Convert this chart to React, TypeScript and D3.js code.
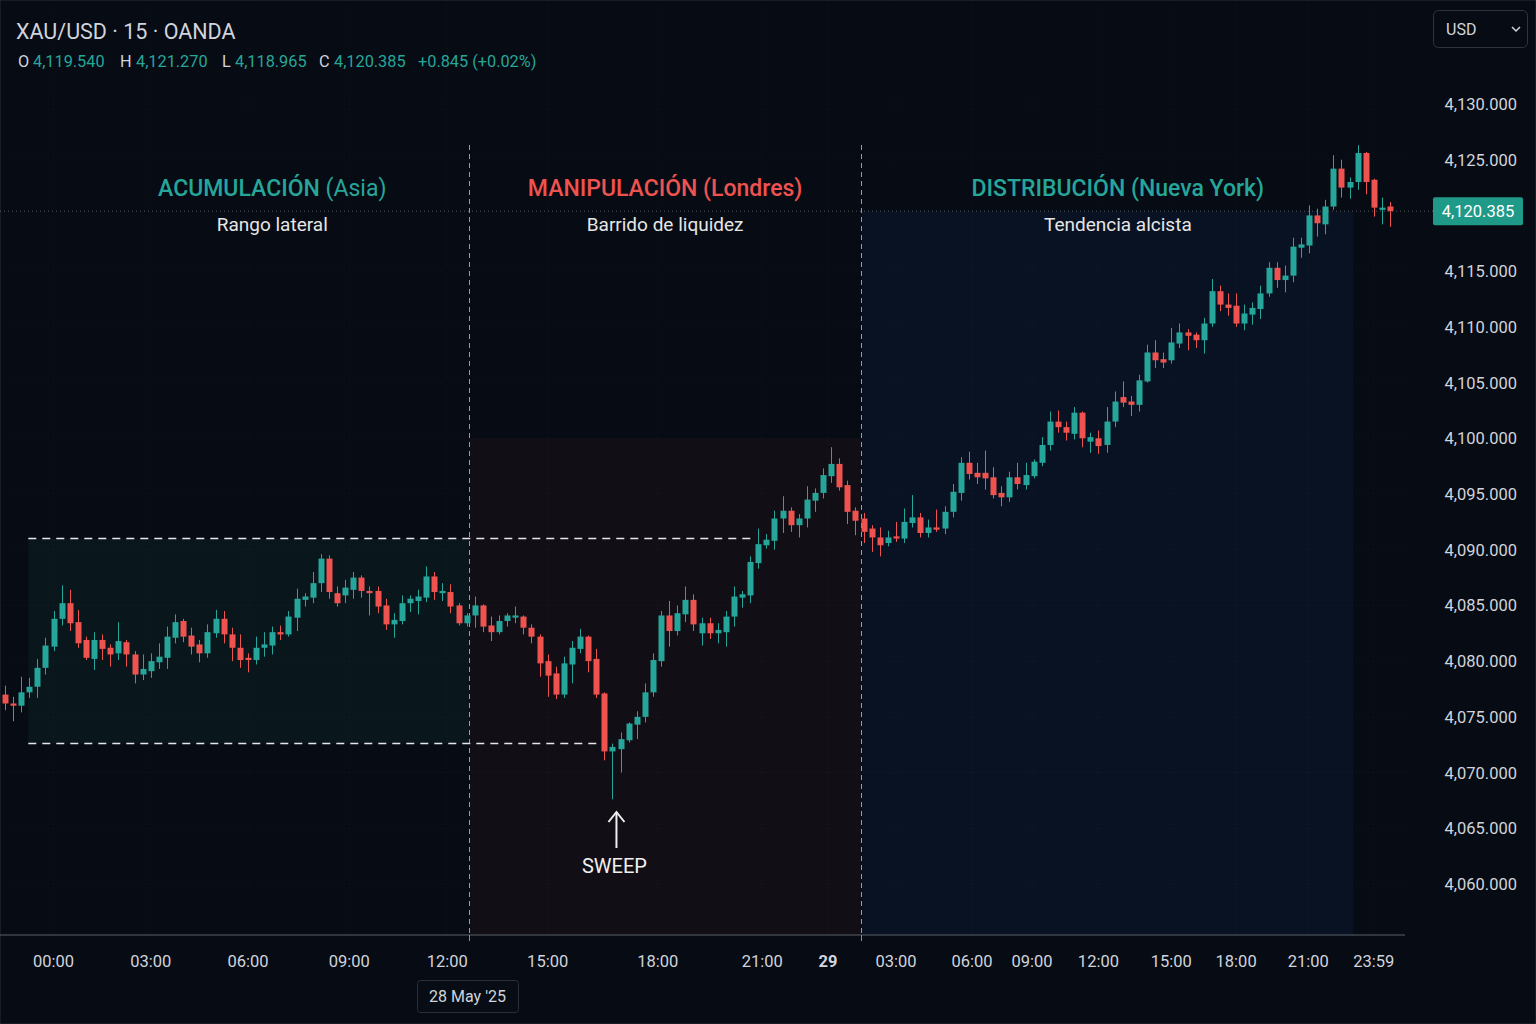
import React from 'react';
import * as d3 from 'd3';

const W = 1536;
const H = 1024;

// 15m bars, 28-29 May '25: [open, high, low, close]
const candles: [number, number, number, number][] = [
  [4077.0, 4077.8, 4075.6, 4076.2], [4076.2, 4076.8, 4074.6, 4076.0], [4076.0, 4078.6, 4075.4, 4077.2],
  [4077.2, 4078.5, 4076.7, 4077.7], [4077.7, 4080.2, 4076.7, 4079.4], [4079.4, 4082.1, 4078.8, 4081.4],
  [4081.3, 4084.5, 4080.9, 4083.8], [4083.8, 4086.8, 4083.2, 4085.2], [4085.2, 4086.4, 4082.7, 4083.4],
  [4083.5, 4084.6, 4081.2, 4081.6], [4081.9, 4082.2, 4080.1, 4080.3], [4080.2, 4082.6, 4079.2, 4081.9],
  [4081.9, 4082.4, 4080.1, 4081.1], [4081.2, 4081.5, 4079.5, 4080.6], [4080.7, 4083.5, 4080.1, 4081.8],
  [4081.7, 4081.9, 4079.5, 4080.6], [4080.6, 4080.9, 4078.0, 4078.8], [4078.8, 4080.6, 4078.3, 4079.3],
  [4079.1, 4080.7, 4078.5, 4080.0], [4079.9, 4081.6, 4079.3, 4080.4], [4080.3, 4083.1, 4079.3, 4082.2],
  [4082.1, 4084.2, 4081.6, 4083.5], [4083.6, 4083.8, 4081.7, 4082.2], [4082.3, 4083.0, 4080.6, 4081.3],
  [4081.5, 4081.9, 4079.9, 4080.7], [4080.7, 4083.3, 4080.3, 4082.6], [4082.5, 4084.6, 4082.1, 4083.8],
  [4083.8, 4084.5, 4081.6, 4082.4], [4082.4, 4083.0, 4080.0, 4081.2], [4081.2, 4082.4, 4079.4, 4080.1],
  [4080.3, 4080.7, 4079.0, 4080.1], [4080.1, 4082.2, 4079.7, 4081.2], [4081.2, 4082.6, 4080.4, 4081.5],
  [4081.4, 4083.1, 4080.6, 4082.6], [4082.6, 4083.2, 4081.9, 4082.4], [4082.4, 4084.5, 4082.2, 4084.0],
  [4083.9, 4086.5, 4082.7, 4085.6], [4085.5, 4086.1, 4084.9, 4085.8], [4085.7, 4088.0, 4085.2, 4087.0],
  [4087.0, 4089.6, 4086.2, 4089.2], [4089.2, 4089.5, 4085.6, 4086.2], [4086.1, 4086.7, 4084.9, 4085.2],
  [4085.9, 4087.3, 4085.2, 4086.6], [4086.4, 4088.0, 4085.6, 4087.5], [4087.5, 4087.7, 4085.7, 4086.3],
  [4086.3, 4086.7, 4084.1, 4086.1], [4086.3, 4086.7, 4084.3, 4084.9], [4085.0, 4085.6, 4082.8, 4083.3],
  [4083.3, 4084.3, 4082.1, 4083.7], [4083.6, 4085.9, 4083.3, 4085.2], [4085.2, 4085.9, 4084.4, 4085.6],
  [4085.4, 4086.4, 4084.2, 4085.8], [4085.7, 4088.5, 4085.3, 4087.6], [4087.6, 4088.0, 4085.5, 4086.2],
  [4086.1, 4087.0, 4085.4, 4086.3], [4086.2, 4086.9, 4084.3, 4084.9], [4085.0, 4085.2, 4083.2, 4083.4],
  [4083.4, 4084.3, 4083.1, 4084.1], [4084.1, 4085.8, 4083.0, 4085.0], [4085.0, 4085.1, 4082.6, 4083.1],
  [4083.2, 4084.0, 4081.8, 4082.6], [4082.6, 4084.1, 4082.4, 4083.6], [4083.6, 4084.3, 4083.1, 4084.1],
  [4083.9, 4084.9, 4083.4, 4084.1], [4084.0, 4084.1, 4082.4, 4083.0], [4083.0, 4083.3, 4081.6, 4082.2],
  [4082.2, 4082.4, 4078.6, 4079.8], [4080.0, 4080.6, 4076.8, 4078.7], [4078.9, 4079.5, 4076.6, 4077.0],
  [4077.0, 4080.4, 4076.7, 4079.8], [4079.7, 4081.8, 4078.0, 4081.2], [4081.1, 4082.9, 4080.7, 4082.2],
  [4082.2, 4082.3, 4079.0, 4080.0], [4080.2, 4081.1, 4076.7, 4077.0], [4077.1, 4077.2, 4071.1, 4071.9],
  [4071.9, 4072.6, 4067.6, 4072.3], [4072.1, 4073.6, 4070.0, 4073.0], [4072.9, 4074.5, 4072.7, 4074.4],
  [4074.3, 4075.5, 4073.0, 4075.0], [4075.0, 4078.0, 4074.5, 4077.2], [4077.2, 4080.7, 4076.8, 4080.1],
  [4080.0, 4084.5, 4079.5, 4084.1], [4084.1, 4085.4, 4081.3, 4082.7], [4082.7, 4085.0, 4082.3, 4084.3],
  [4084.2, 4086.7, 4083.5, 4085.5], [4085.5, 4086.0, 4082.7, 4083.3], [4082.5, 4083.9, 4081.4, 4083.4],
  [4083.4, 4083.9, 4082.0, 4082.5], [4082.5, 4083.4, 4081.6, 4082.8], [4082.6, 4084.5, 4081.3, 4084.0],
  [4084.0, 4086.7, 4083.1, 4085.8], [4085.7, 4086.3, 4084.8, 4086.0], [4085.9, 4089.4, 4085.2, 4088.9],
  [4088.8, 4091.9, 4088.3, 4090.5], [4090.4, 4091.4, 4090.1, 4090.9], [4090.8, 4093.5, 4090.0, 4092.8],
  [4092.8, 4094.8, 4091.5, 4093.5], [4093.5, 4093.8, 4091.6, 4092.2], [4092.2, 4093.2, 4091.1, 4092.8],
  [4092.8, 4095.7, 4092.0, 4094.5], [4094.4, 4095.5, 4093.4, 4095.1], [4095.1, 4097.3, 4094.6, 4096.7],
  [4096.6, 4099.2, 4096.0, 4097.7], [4097.7, 4098.2, 4095.3, 4095.6], [4095.8, 4096.2, 4092.3, 4093.4],
  [4093.5, 4093.8, 4091.3, 4092.6], [4092.8, 4093.3, 4090.6, 4091.6], [4091.9, 4092.2, 4089.8, 4091.1],
  [4091.1, 4092.0, 4089.4, 4090.4], [4090.6, 4091.7, 4090.3, 4091.1], [4091.2, 4092.5, 4090.7, 4091.0],
  [4091.0, 4093.7, 4090.6, 4092.5], [4092.4, 4094.9, 4092.0, 4092.9], [4092.9, 4093.3, 4091.1, 4091.5],
  [4091.5, 4092.7, 4091.1, 4092.0], [4092.0, 4093.6, 4091.6, 4091.8], [4091.9, 4093.9, 4091.4, 4093.4],
  [4093.4, 4095.9, 4092.9, 4095.2], [4095.1, 4098.3, 4094.4, 4097.8], [4097.8, 4098.8, 4096.3, 4096.8],
  [4096.9, 4097.8, 4095.9, 4096.5], [4096.9, 4098.9, 4095.4, 4096.4], [4096.5, 4097.4, 4094.6, 4094.9],
  [4095.1, 4095.7, 4093.9, 4094.7], [4094.7, 4097.0, 4094.3, 4096.5], [4096.5, 4097.8, 4095.4, 4095.9],
  [4095.8, 4097.8, 4095.4, 4096.7], [4096.6, 4098.1, 4096.4, 4097.9], [4097.8, 4100.1, 4097.5, 4099.4],
  [4099.4, 4102.4, 4098.9, 4101.5], [4101.5, 4102.5, 4100.5, 4101.0], [4101.0, 4101.5, 4099.8, 4100.5],
  [4100.4, 4102.8, 4099.9, 4102.3], [4102.3, 4102.4, 4099.2, 4100.0], [4099.7, 4100.5, 4098.7, 4100.1],
  [4100.0, 4100.7, 4098.6, 4099.3], [4099.4, 4102.8, 4098.7, 4101.5], [4101.5, 4104.2, 4101.0, 4103.3],
  [4103.7, 4105.1, 4102.8, 4103.2], [4103.3, 4103.8, 4102.0, 4103.0], [4103.0, 4105.7, 4102.4, 4105.2],
  [4105.1, 4108.4, 4105.0, 4107.7], [4107.7, 4108.8, 4106.3, 4107.0], [4107.1, 4107.7, 4106.3, 4106.8],
  [4107.0, 4109.9, 4106.7, 4108.6], [4108.5, 4110.3, 4108.1, 4109.5], [4109.5, 4109.8, 4107.9, 4109.2],
  [4109.3, 4109.5, 4108.1, 4108.8], [4108.8, 4110.8, 4107.6, 4110.3], [4110.3, 4114.3, 4110.0, 4113.2],
  [4113.2, 4113.7, 4111.4, 4112.0], [4112.0, 4113.0, 4111.0, 4111.7], [4111.9, 4113.0, 4110.0, 4110.3],
  [4110.3, 4112.0, 4109.7, 4111.2], [4111.1, 4112.2, 4110.2, 4111.7], [4111.6, 4113.7, 4110.7, 4113.0],
  [4113.0, 4115.8, 4112.7, 4115.3], [4115.3, 4115.8, 4113.5, 4114.2], [4114.2, 4115.5, 4113.1, 4114.6],
  [4114.6, 4118.0, 4114.0, 4117.2], [4117.1, 4118.0, 4116.2, 4117.4], [4117.3, 4120.9, 4116.6, 4120.0],
  [4120.0, 4120.6, 4118.1, 4119.3], [4119.2, 4121.4, 4118.3, 4120.8], [4120.8, 4125.4, 4120.5, 4124.2],
  [4124.2, 4125.0, 4121.6, 4122.5], [4122.5, 4123.4, 4121.5, 4123.0], [4123.0, 4126.3, 4122.3, 4125.6],
  [4125.6, 4125.7, 4121.9, 4123.0], [4123.2, 4123.3, 4119.9, 4120.7], [4120.5, 4121.6, 4119.2, 4120.7],
  [4120.8, 4121.2, 4118.97, 4120.385],
];

const priceTicks = [4130, 4125, 4115, 4110, 4105, 4100, 4095, 4090, 4085, 4080, 4075, 4070, 4065, 4060];

// bar index -> label
const timeTicks: [number, string][] = [
  [6, '00:00'], [18, '03:00'], [30, '06:00'], [42.5, '09:00'], [54.6, '12:00'], [67, '15:00'],
  [80.6, '18:00'], [93.5, '21:00'], [101.6, '29'], [110, '03:00'], [119.4, '06:00'], [126.8, '09:00'],
  [135, '12:00'], [144, '15:00'], [152, '18:00'], [160.9, '21:00'], [169, '23:59'],
];

const sessionStarts = [57.8, 106.2]; // Londres, Nueva York
const sessionTitles = [
  { at: 33, title: 'ACUMULACIÓN', tag: '(Asia)', sub: 'Rango lateral', color: '#26a69a' },
  { at: 81.5, title: 'MANIPULACIÓN', tag: '(Londres)', sub: 'Barrido de liquidez', color: '#ef5350' },
  { at: 137.4, title: 'DISTRIBUCIÓN', tag: '(Nueva York)', sub: 'Tendencia alcista', color: '#26a69a' },
];

const rangeHigh = 4091.0;
const rangeLow = 4072.6;
const manipHigh = 4100.0;
const sweepBar = 75;
const breakoutBar = 93;
const nyEndBar = 166;

const header = { o: '4,119.540', h: '4,121.270', l: '4,118.965', c: '4,120.385', chg: '+0.845 (+0.02%)' };

const UP = '#26a69a';
const DOWN = '#ef5350';
const TXT = '#d1d4dc';
const FONT = 'Roboto, "Noto Sans", sans-serif';

export default function App() {
  const x = d3.scaleLinear().domain([0, candles.length - 1]).range([5, 1390]);
  const y = d3.scaleLinear().domain([4060, 4130]).range([884, 104]);
  const fmt = d3.format(',.3f');

  const axisY = 935;
  const chartRight = 1405;
  const last = candles[candles.length - 1][3];
  const b1 = Math.round(x(sessionStarts[0] - 0.5)) + 0.5;
  const b2 = Math.round(x(sessionStarts[1] - 0.5)) + 0.5;
  const boxLeft = x(3) - 1;

  return (
    <svg width={W} height={H} style={{ position: 'absolute', left: 0, top: 0, fontFamily: FONT }}>
      <rect width={W} height={H} fill="#070b13" stroke="#2a2e39" />

      {/* session backgrounds */}
      <rect x={boxLeft} y={y(rangeHigh)} width={b1 - boxLeft} height={y(rangeLow) - y(rangeHigh)} fill="#26a69a" fillOpacity={0.08} />
      <rect x={b1} y={y(manipHigh)} width={b2 - b1} height={axisY - y(manipHigh)} fill="#ef5350" fillOpacity={0.05} />
      <rect x={b2} y={y(last)} width={x(nyEndBar + 0.5) - b2} height={axisY - y(last)} fill="#1e50a0" fillOpacity={0.11} />

      {/* grid */}
      <g stroke="#ffffff" strokeOpacity={0.045} strokeDasharray="1,3">
        {priceTicks.map((p) => (
          <line key={p} x1={0} x2={chartRight} y1={y(p)} y2={y(p)} />
        ))}
        {timeTicks.map(([i]) => (
          <line key={'g' + i} x1={x(i)} x2={x(i)} y1={0} y2={axisY} />
        ))}
      </g>

      {/* last price line */}
      <line x1={0} x2={1433} y1={y(last)} y2={y(last)} stroke="#9598a1" strokeOpacity={0.55} strokeDasharray="1,3" />

      {/* session separators */}
      <g stroke="#c9cbd1" strokeOpacity={0.75} strokeDasharray="5,4">
        <line x1={b1} x2={b1} y1={145} y2={axisY} />
        <line x1={b2} x2={b2} y1={145} y2={axisY} />
      </g>

      {/* range box borders */}
      <g stroke="#e4e6eb" strokeWidth={1.5} strokeDasharray="8,6">
        <line x1={boxLeft} x2={x(breakoutBar - 0.5)} y1={y(rangeHigh)} y2={y(rangeHigh)} />
        <line x1={boxLeft} x2={x(sweepBar - 1.5)} y1={y(rangeLow)} y2={y(rangeLow)} />
      </g>

      {/* candles */}
      <g>
        {candles.map(([o, h, l, c], i) => {
          const col = c >= o ? UP : DOWN;
          const top = y(Math.max(o, c));
          const bh = Math.max(1.5, Math.abs(y(o) - y(c)));
          const cx = Math.round(x(i)) + 0.5;
          return (
            <g key={i}>
              <line x1={cx} x2={cx} y1={y(h)} y2={y(l)} stroke={col} strokeWidth={1} />
              <rect x={cx - 3} y={top} width={6} height={bh} fill={col} />
            </g>
          );
        })}
      </g>

      {/* sweep arrow */}
      <g stroke="#f0f0f0" strokeWidth={2} fill="none">
        <line x1={x(sweepBar) + 4} x2={x(sweepBar) + 4} y1={848} y2={812} />
        <polyline points={`${x(sweepBar) - 4},${822} ${x(sweepBar) + 4},${812} ${x(sweepBar) + 12},${822}`} />
      </g>
      <text x={x(sweepBar) + 2} y={873} textAnchor="middle" fill="#f0f0f0" fontSize={20}>SWEEP</text>

      {/* session titles */}
      {sessionTitles.map((s) => (
        <g key={s.title}>
          <text x={x(s.at)} y={196} textAnchor="middle" fill={s.color} fontSize={23} fontWeight={500}>
            {s.title}
            <tspan fontWeight={s.tag === '(Asia)' ? 400 : 500}> {s.tag}</tspan>
          </text>
          <text x={x(s.at)} y={231} textAnchor="middle" fill="#e6e6e6" fontSize={19}>{s.sub}</text>
        </g>
      ))}

      {/* header */}
      <text x={16} y={39} fill={TXT} fontSize={21.5}>XAU/USD · 15 · OANDA</text>
      <g fontSize={16.3}>
        <text x={18} y={67} fill={TXT}>O</text>
        <text x={33} y={67} fill={UP}>{header.o}</text>
        <text x={120} y={67} fill={TXT}>H</text>
        <text x={136} y={67} fill={UP}>{header.h}</text>
        <text x={222} y={67} fill={TXT}>L</text>
        <text x={235} y={67} fill={UP}>{header.l}</text>
        <text x={319} y={67} fill={TXT}>C</text>
        <text x={334} y={67} fill={UP}>{header.c}</text>
        <text x={418} y={67} fill={UP}>{header.chg}</text>
      </g>

      {/* currency selector */}
      <rect x={1433.5} y={10.5} width={94} height={37} rx={5} fill="none" stroke="#2f3440" />
      <text x={1446} y={35} fill={TXT} fontSize={16}>USD</text>
      <polyline points="1512,27 1516,31 1520,27" fill="none" stroke={TXT} strokeWidth={1.5} />

      {/* price axis */}
      <g fontSize={16.5} fill={TXT} textAnchor="end">
        {priceTicks.map((p) => (
          <text key={p} x={1517} y={y(p) + 6}>{fmt(p)}</text>
        ))}
      </g>
      <rect x={1433} y={y(last) - 14} width={90} height={28} rx={2} fill="#1f9a88" />
      <text x={1478} y={y(last) + 6} textAnchor="middle" fill="#ffffff" fontSize={16.5}>{fmt(last)}</text>

      {/* time axis */}
      <line x1={0} x2={chartRight} y1={axisY} y2={axisY} stroke="#5d606b" />
      <line x1={b1} x2={b1} y1={axisY} y2={axisY + 6} stroke="#8a8d96" />
      <line x1={b2} x2={b2} y1={axisY} y2={axisY + 6} stroke="#8a8d96" />
      <g fontSize={16.5} fill={TXT} textAnchor="middle">
        {timeTicks.map(([i, l]) => (
          <text key={'t' + i} x={x(i)} y={967} fontWeight={l === '29' ? 700 : 400}>{l}</text>
        ))}
      </g>
      <rect x={b1 - 52} y={980.5} width={101} height={32} rx={3} fill="#080c15" stroke="#2a2e39" />
      <text x={b1 - 2} y={1002} textAnchor="middle" fill={TXT} fontSize={16}>28 May '25</text>
    </svg>
  );
}
